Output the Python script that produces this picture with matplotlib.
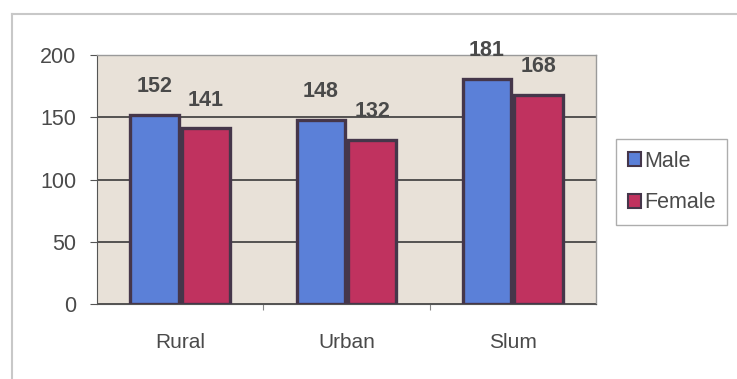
import matplotlib
matplotlib.use("Agg")
import matplotlib.pyplot as plt
from matplotlib.lines import Line2D
import numpy as np

categories = ["Rural", "Urban", "Slum"]
male = [152, 148, 181]
female = [141, 132, 168]
y_ticks = [0, 50, 100, 150, 200]

plt.rcParams["font.family"] = ["Liberation Sans", "DejaVu Sans"]

fig = plt.figure(figsize=(7.37, 3.79), dpi=100)
fig.patch.set_facecolor("white")

# outer frame of the chart area
fig.add_artist(Line2D([12 / 737, 12 / 737], [0, 1 - 14 / 379], color="#c8c8c8", lw=1.5))
fig.add_artist(Line2D([12 / 737, 1], [1 - 14 / 379, 1 - 14 / 379], color="#c8c8c8", lw=1.5))

ax = fig.add_axes([97 / 737, 1 - 304 / 379, 499 / 737, 249 / 379])
ax.set_facecolor("#e8e1d8")

x = np.arange(len(categories))
w = 0.29
off = 0.155
edge = "#45364a"
b1 = ax.bar(x - off, male, w, color="#5b80d8", edgecolor=edge, linewidth=2.4, label="Male", zorder=3)
b2 = ax.bar(x + off, female, w, color="#c0325f", edgecolor=edge, linewidth=2.4, label="Female", zorder=3)

label_kw = dict(ha="center", va="bottom", fontsize=15.5, color="#4a4a4a", fontweight="bold")
for xi, v in zip(x, male):
    ax.text(xi - off, v + 14, str(v), **label_kw)
for xi, v in zip(x, female):
    ax.text(xi + off, v + 14, str(v), **label_kw)

ax.set_xlim(-0.5, 2.5)
ax.set_ylim(0, 200)
ax.set_yticks(y_ticks)
ax.yaxis.grid(True, color="#3a3a3a", lw=1.2, zorder=1)
ax.set_axisbelow(True)

ax.set_xticks([0.5, 1.5], minor=False)
ax.set_xticklabels([])
ax.set_xticks(x, minor=True)
ax.set_xticklabels(categories, minor=True, fontsize=15, color="#4a4a4a")
ax.tick_params(axis="x", which="minor", length=0, pad=21)
ax.tick_params(axis="x", which="major", length=4, color="#888888")
ax.tick_params(axis="y", length=5, color="#555555", labelsize=15.5, labelcolor="#4a4a4a", pad=10)

for s in ["top", "right"]:
    ax.spines[s].set_color("#9a9a9a")
    ax.spines[s].set_linewidth(1)
ax.spines["left"].set_color("#555555")
ax.spines["bottom"].set_color("#555555")

leg = fig.legend(handles=[b1, b2], labels=["Male", "Female"],
                 loc="upper left", bbox_to_anchor=(616 / 737, 1 - 139 / 379),
                 frameon=True, fancybox=False, fontsize=15.5, handlelength=0.6,
                 handleheight=0.6, handletextpad=0.15, borderpad=0.55,
                 labelspacing=0.95, labelcolor="#4a4a4a", borderaxespad=0)
leg.get_frame().set_edgecolor("#999999")
leg.get_frame().set_linewidth(1)
for h in leg.legend_handles:
    h.set_linewidth(1.5)

fig.savefig("out.png", dpi=100)
